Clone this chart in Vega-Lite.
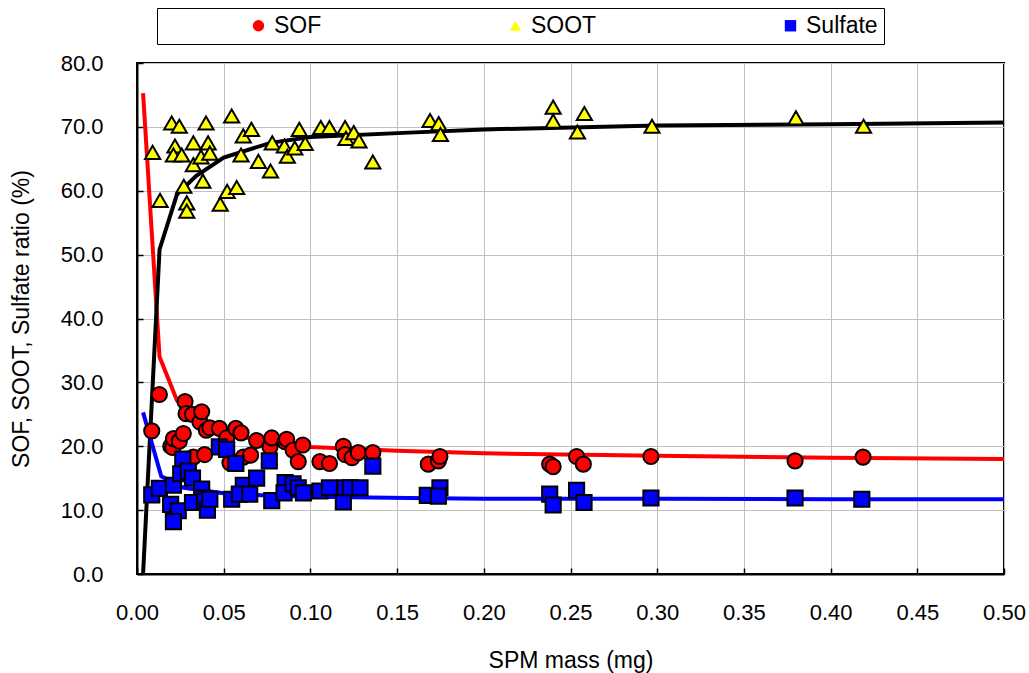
{
  "$schema": "https://vega.github.io/schema/vega-lite/v6.json",
  "width": 867,
  "height": 511,
  "padding": {"left": 10, "top": 7, "right": 5, "bottom": 5},
  "background": "white",
  "config": {
    "font": "Liberation Sans",
    "view": {"stroke": "black", "strokeWidth": 2},
    "axis": {
      "labelFont": "Liberation Sans",
      "labelFontSize": 22,
      "labelColor": "black",
      "labelFlush": false,
      "titleFont": "Liberation Sans",
      "titleFontSize": 23,
      "titleFontWeight": "normal",
      "titleColor": "black",
      "gridColor": "#c0c0c0",
      "gridWidth": 1,
      "domainColor": "black",
      "domainWidth": 2,
      "tickColor": "black",
      "tickWidth": 1.5,
      "tickSize": -6
    },
    "legend": {
      "orient": "none",
      "legendX": 20,
      "legendY": -55,
      "direction": "horizontal",
      "columns": 3,
      "columnPadding": 98,
      "padding": 6,
      "strokeColor": "black",
      "fillColor": "white",
      "labelFont": "Liberation Sans",
      "labelFontSize": 23,
      "labelColor": "black",
      "symbolSize": 130,
      "symbolStrokeColor": "black",
      "symbolStrokeWidth": 1.5,
      "symbolOffset": 84,
      "labelOffset": 4
    }
  },
  "data": {
    "values": [
      {"kind": "fit", "series": "SOF", "mass": 0.0035, "ratio": 75.3},
      {"kind": "fit", "series": "SOF", "mass": 0.013, "ratio": 34.0},
      {"kind": "fit", "series": "SOF", "mass": 0.023, "ratio": 27.2},
      {"kind": "fit", "series": "SOF", "mass": 0.03, "ratio": 25.4},
      {"kind": "fit", "series": "SOF", "mass": 0.05, "ratio": 22.2},
      {"kind": "fit", "series": "SOF", "mass": 0.07, "ratio": 20.9},
      {"kind": "fit", "series": "SOF", "mass": 0.1, "ratio": 19.9},
      {"kind": "fit", "series": "SOF", "mass": 0.15, "ratio": 19.3},
      {"kind": "fit", "series": "SOF", "mass": 0.2, "ratio": 18.9},
      {"kind": "fit", "series": "SOF", "mass": 0.3, "ratio": 18.5},
      {"kind": "fit", "series": "SOF", "mass": 0.4, "ratio": 18.2},
      {"kind": "fit", "series": "SOF", "mass": 0.5, "ratio": 18.0},

      {"kind": "fit", "series": "SOOT", "mass": 0.0035, "ratio": 0.0},
      {"kind": "fit", "series": "SOOT", "mass": 0.013, "ratio": 50.8},
      {"kind": "fit", "series": "SOOT", "mass": 0.023, "ratio": 59.4},
      {"kind": "fit", "series": "SOOT", "mass": 0.034, "ratio": 62.3},
      {"kind": "fit", "series": "SOOT", "mass": 0.05, "ratio": 65.2},
      {"kind": "fit", "series": "SOOT", "mass": 0.077, "ratio": 67.5},
      {"kind": "fit", "series": "SOOT", "mass": 0.1, "ratio": 68.4},
      {"kind": "fit", "series": "SOOT", "mass": 0.157, "ratio": 69.1},
      {"kind": "fit", "series": "SOOT", "mass": 0.2, "ratio": 69.6},
      {"kind": "fit", "series": "SOOT", "mass": 0.3, "ratio": 70.2},
      {"kind": "fit", "series": "SOOT", "mass": 0.4, "ratio": 70.4},
      {"kind": "fit", "series": "SOOT", "mass": 0.5, "ratio": 70.7},

      {"kind": "fit", "series": "Sulfate", "mass": 0.0035, "ratio": 25.3},
      {"kind": "fit", "series": "Sulfate", "mass": 0.014, "ratio": 15.3},
      {"kind": "fit", "series": "Sulfate", "mass": 0.027, "ratio": 13.5},
      {"kind": "fit", "series": "Sulfate", "mass": 0.054, "ratio": 12.5},
      {"kind": "fit", "series": "Sulfate", "mass": 0.1, "ratio": 12.1},
      {"kind": "fit", "series": "Sulfate", "mass": 0.157, "ratio": 11.9},
      {"kind": "fit", "series": "Sulfate", "mass": 0.2, "ratio": 11.8},
      {"kind": "fit", "series": "Sulfate", "mass": 0.3, "ratio": 11.8},
      {"kind": "fit", "series": "Sulfate", "mass": 0.4, "ratio": 11.7},
      {"kind": "fit", "series": "Sulfate", "mass": 0.5, "ratio": 11.7},

      {"kind": "obs", "series": "SOF", "mass": 0.0085, "ratio": 22.4},
      {"kind": "obs", "series": "SOF", "mass": 0.0129, "ratio": 28.1},
      {"kind": "obs", "series": "SOF", "mass": 0.0195, "ratio": 20.0},
      {"kind": "obs", "series": "SOF", "mass": 0.0206, "ratio": 19.8},
      {"kind": "obs", "series": "SOF", "mass": 0.021, "ratio": 21.2},
      {"kind": "obs", "series": "SOF", "mass": 0.0244, "ratio": 20.8},
      {"kind": "obs", "series": "SOF", "mass": 0.0267, "ratio": 22.0},
      {"kind": "obs", "series": "SOF", "mass": 0.0277, "ratio": 27.0},
      {"kind": "obs", "series": "SOF", "mass": 0.0283, "ratio": 25.1},
      {"kind": "obs", "series": "SOF", "mass": 0.032, "ratio": 25.0},
      {"kind": "obs", "series": "SOF", "mass": 0.0325, "ratio": 18.3},
      {"kind": "obs", "series": "SOF", "mass": 0.0363, "ratio": 23.8},
      {"kind": "obs", "series": "SOF", "mass": 0.0373, "ratio": 25.4},
      {"kind": "obs", "series": "SOF", "mass": 0.039, "ratio": 18.7},
      {"kind": "obs", "series": "SOF", "mass": 0.04, "ratio": 22.5},
      {"kind": "obs", "series": "SOF", "mass": 0.042, "ratio": 22.9},
      {"kind": "obs", "series": "SOF", "mass": 0.0475, "ratio": 22.8},
      {"kind": "obs", "series": "SOF", "mass": 0.0517, "ratio": 21.3},
      {"kind": "obs", "series": "SOF", "mass": 0.0536, "ratio": 17.4},
      {"kind": "obs", "series": "SOF", "mass": 0.057, "ratio": 22.8},
      {"kind": "obs", "series": "SOF", "mass": 0.06, "ratio": 22.1},
      {"kind": "obs", "series": "SOF", "mass": 0.0613, "ratio": 18.3},
      {"kind": "obs", "series": "SOF", "mass": 0.0655, "ratio": 18.6},
      {"kind": "obs", "series": "SOF", "mass": 0.069, "ratio": 20.9},
      {"kind": "obs", "series": "SOF", "mass": 0.0767, "ratio": 19.9},
      {"kind": "obs", "series": "SOF", "mass": 0.0777, "ratio": 21.3},
      {"kind": "obs", "series": "SOF", "mass": 0.0854, "ratio": 20.7},
      {"kind": "obs", "series": "SOF", "mass": 0.0863, "ratio": 21.1},
      {"kind": "obs", "series": "SOF", "mass": 0.09, "ratio": 19.4},
      {"kind": "obs", "series": "SOF", "mass": 0.093, "ratio": 17.6},
      {"kind": "obs", "series": "SOF", "mass": 0.0956, "ratio": 20.2},
      {"kind": "obs", "series": "SOF", "mass": 0.1055, "ratio": 17.6},
      {"kind": "obs", "series": "SOF", "mass": 0.111, "ratio": 17.3},
      {"kind": "obs", "series": "SOF", "mass": 0.119, "ratio": 20.0},
      {"kind": "obs", "series": "SOF", "mass": 0.12, "ratio": 18.7},
      {"kind": "obs", "series": "SOF", "mass": 0.124, "ratio": 18.2},
      {"kind": "obs", "series": "SOF", "mass": 0.1276, "ratio": 19.0},
      {"kind": "obs", "series": "SOF", "mass": 0.136, "ratio": 19.0},
      {"kind": "obs", "series": "SOF", "mass": 0.168, "ratio": 17.2},
      {"kind": "obs", "series": "SOF", "mass": 0.1738, "ratio": 17.7},
      {"kind": "obs", "series": "SOF", "mass": 0.1747, "ratio": 18.4},
      {"kind": "obs", "series": "SOF", "mass": 0.238, "ratio": 17.2},
      {"kind": "obs", "series": "SOF", "mass": 0.24, "ratio": 16.8},
      {"kind": "obs", "series": "SOF", "mass": 0.2535, "ratio": 18.4},
      {"kind": "obs", "series": "SOF", "mass": 0.2574, "ratio": 17.2},
      {"kind": "obs", "series": "SOF", "mass": 0.2964, "ratio": 18.4},
      {"kind": "obs", "series": "SOF", "mass": 0.3795, "ratio": 17.7},
      {"kind": "obs", "series": "SOF", "mass": 0.4187, "ratio": 18.3},

      {"kind": "obs", "series": "SOOT", "mass": 0.009, "ratio": 66.0},
      {"kind": "obs", "series": "SOOT", "mass": 0.0133, "ratio": 58.5},
      {"kind": "obs", "series": "SOOT", "mass": 0.02, "ratio": 70.6},
      {"kind": "obs", "series": "SOOT", "mass": 0.0244, "ratio": 70.1},
      {"kind": "obs", "series": "SOOT", "mass": 0.0219, "ratio": 67.0},
      {"kind": "obs", "series": "SOOT", "mass": 0.021, "ratio": 65.6},
      {"kind": "obs", "series": "SOOT", "mass": 0.0258, "ratio": 65.6},
      {"kind": "obs", "series": "SOOT", "mass": 0.0325, "ratio": 67.5},
      {"kind": "obs", "series": "SOOT", "mass": 0.0325, "ratio": 64.1},
      {"kind": "obs", "series": "SOOT", "mass": 0.0369, "ratio": 65.3},
      {"kind": "obs", "series": "SOOT", "mass": 0.041, "ratio": 67.5},
      {"kind": "obs", "series": "SOOT", "mass": 0.042, "ratio": 65.9},
      {"kind": "obs", "series": "SOOT", "mass": 0.0398, "ratio": 70.6},
      {"kind": "obs", "series": "SOOT", "mass": 0.038, "ratio": 61.5},
      {"kind": "obs", "series": "SOOT", "mass": 0.027, "ratio": 60.7},
      {"kind": "obs", "series": "SOOT", "mass": 0.0287, "ratio": 58.1},
      {"kind": "obs", "series": "SOOT", "mass": 0.0287, "ratio": 56.8},
      {"kind": "obs", "series": "SOOT", "mass": 0.048, "ratio": 57.9},
      {"kind": "obs", "series": "SOOT", "mass": 0.052, "ratio": 59.9},
      {"kind": "obs", "series": "SOOT", "mass": 0.0575, "ratio": 60.5},
      {"kind": "obs", "series": "SOOT", "mass": 0.0546, "ratio": 71.7},
      {"kind": "obs", "series": "SOOT", "mass": 0.0613, "ratio": 68.6},
      {"kind": "obs", "series": "SOOT", "mass": 0.066, "ratio": 69.6},
      {"kind": "obs", "series": "SOOT", "mass": 0.06, "ratio": 65.6},
      {"kind": "obs", "series": "SOOT", "mass": 0.07, "ratio": 64.6},
      {"kind": "obs", "series": "SOOT", "mass": 0.078, "ratio": 67.5},
      {"kind": "obs", "series": "SOOT", "mass": 0.077, "ratio": 63.1},
      {"kind": "obs", "series": "SOOT", "mass": 0.085, "ratio": 67.0},
      {"kind": "obs", "series": "SOOT", "mass": 0.0867, "ratio": 65.4},
      {"kind": "obs", "series": "SOOT", "mass": 0.091, "ratio": 66.7},
      {"kind": "obs", "series": "SOOT", "mass": 0.0936, "ratio": 69.6},
      {"kind": "obs", "series": "SOOT", "mass": 0.097, "ratio": 67.4},
      {"kind": "obs", "series": "SOOT", "mass": 0.106, "ratio": 69.9},
      {"kind": "obs", "series": "SOOT", "mass": 0.111, "ratio": 69.9},
      {"kind": "obs", "series": "SOOT", "mass": 0.12, "ratio": 69.9},
      {"kind": "obs", "series": "SOOT", "mass": 0.1205, "ratio": 68.2},
      {"kind": "obs", "series": "SOOT", "mass": 0.125, "ratio": 69.1},
      {"kind": "obs", "series": "SOOT", "mass": 0.128, "ratio": 67.8},
      {"kind": "obs", "series": "SOOT", "mass": 0.136, "ratio": 64.5},
      {"kind": "obs", "series": "SOOT", "mass": 0.169, "ratio": 71.0},
      {"kind": "obs", "series": "SOOT", "mass": 0.174, "ratio": 70.5},
      {"kind": "obs", "series": "SOOT", "mass": 0.175, "ratio": 68.8},
      {"kind": "obs", "series": "SOOT", "mass": 0.24, "ratio": 73.1},
      {"kind": "obs", "series": "SOOT", "mass": 0.24, "ratio": 70.9},
      {"kind": "obs", "series": "SOOT", "mass": 0.254, "ratio": 69.2},
      {"kind": "obs", "series": "SOOT", "mass": 0.258, "ratio": 72.1},
      {"kind": "obs", "series": "SOOT", "mass": 0.297, "ratio": 70.1},
      {"kind": "obs", "series": "SOOT", "mass": 0.38, "ratio": 71.4},
      {"kind": "obs", "series": "SOOT", "mass": 0.419, "ratio": 70.1},

      {"kind": "obs", "series": "Sulfate", "mass": 0.0085, "ratio": 12.4},
      {"kind": "obs", "series": "Sulfate", "mass": 0.0129, "ratio": 13.4},
      {"kind": "obs", "series": "Sulfate", "mass": 0.0194, "ratio": 10.9},
      {"kind": "obs", "series": "Sulfate", "mass": 0.0238, "ratio": 9.9},
      {"kind": "obs", "series": "Sulfate", "mass": 0.021, "ratio": 8.2},
      {"kind": "obs", "series": "Sulfate", "mass": 0.021, "ratio": 13.9},
      {"kind": "obs", "series": "Sulfate", "mass": 0.0264, "ratio": 18.0},
      {"kind": "obs", "series": "Sulfate", "mass": 0.0252, "ratio": 15.7},
      {"kind": "obs", "series": "Sulfate", "mass": 0.0296, "ratio": 16.1},
      {"kind": "obs", "series": "Sulfate", "mass": 0.032, "ratio": 15.0},
      {"kind": "obs", "series": "Sulfate", "mass": 0.0373, "ratio": 13.3},
      {"kind": "obs", "series": "Sulfate", "mass": 0.0373, "ratio": 11.9},
      {"kind": "obs", "series": "Sulfate", "mass": 0.032, "ratio": 11.2},
      {"kind": "obs", "series": "Sulfate", "mass": 0.039, "ratio": 11.4},
      {"kind": "obs", "series": "Sulfate", "mass": 0.0406, "ratio": 10.0},
      {"kind": "obs", "series": "Sulfate", "mass": 0.042, "ratio": 11.7},
      {"kind": "obs", "series": "Sulfate", "mass": 0.0475, "ratio": 19.9},
      {"kind": "obs", "series": "Sulfate", "mass": 0.0517, "ratio": 19.5},
      {"kind": "obs", "series": "Sulfate", "mass": 0.057, "ratio": 17.3},
      {"kind": "obs", "series": "Sulfate", "mass": 0.0546, "ratio": 11.7},
      {"kind": "obs", "series": "Sulfate", "mass": 0.0613, "ratio": 13.9},
      {"kind": "obs", "series": "Sulfate", "mass": 0.059, "ratio": 12.5},
      {"kind": "obs", "series": "Sulfate", "mass": 0.065, "ratio": 12.5},
      {"kind": "obs", "series": "Sulfate", "mass": 0.069, "ratio": 15.0},
      {"kind": "obs", "series": "Sulfate", "mass": 0.0763, "ratio": 17.7},
      {"kind": "obs", "series": "Sulfate", "mass": 0.0777, "ratio": 11.5},
      {"kind": "obs", "series": "Sulfate", "mass": 0.0854, "ratio": 14.3},
      {"kind": "obs", "series": "Sulfate", "mass": 0.0848, "ratio": 12.7},
      {"kind": "obs", "series": "Sulfate", "mass": 0.09, "ratio": 14.1},
      {"kind": "obs", "series": "Sulfate", "mass": 0.093, "ratio": 13.5},
      {"kind": "obs", "series": "Sulfate", "mass": 0.096, "ratio": 12.7},
      {"kind": "obs", "series": "Sulfate", "mass": 0.1055, "ratio": 13.0},
      {"kind": "obs", "series": "Sulfate", "mass": 0.111, "ratio": 13.5},
      {"kind": "obs", "series": "Sulfate", "mass": 0.119, "ratio": 11.3},
      {"kind": "obs", "series": "Sulfate", "mass": 0.12, "ratio": 13.5},
      {"kind": "obs", "series": "Sulfate", "mass": 0.123, "ratio": 13.5},
      {"kind": "obs", "series": "Sulfate", "mass": 0.1286, "ratio": 13.5},
      {"kind": "obs", "series": "Sulfate", "mass": 0.136, "ratio": 16.9},
      {"kind": "obs", "series": "Sulfate", "mass": 0.1674, "ratio": 12.3},
      {"kind": "obs", "series": "Sulfate", "mass": 0.1747, "ratio": 13.5},
      {"kind": "obs", "series": "Sulfate", "mass": 0.1738, "ratio": 12.2},
      {"kind": "obs", "series": "Sulfate", "mass": 0.238, "ratio": 12.5},
      {"kind": "obs", "series": "Sulfate", "mass": 0.24, "ratio": 10.8},
      {"kind": "obs", "series": "Sulfate", "mass": 0.2535, "ratio": 13.1},
      {"kind": "obs", "series": "Sulfate", "mass": 0.2578, "ratio": 11.2},
      {"kind": "obs", "series": "Sulfate", "mass": 0.2964, "ratio": 11.9},
      {"kind": "obs", "series": "Sulfate", "mass": 0.3795, "ratio": 11.9},
      {"kind": "obs", "series": "Sulfate", "mass": 0.418, "ratio": 11.7}
    ]
  },
  "encoding": {
    "x": {
      "field": "mass",
      "type": "quantitative",
      "title": "SPM mass (mg)",
      "scale": {"domain": [0, 0.5], "nice": false, "zero": false},
      "axis": {
        "values": [0, 0.05, 0.1, 0.15, 0.2, 0.25, 0.3, 0.35, 0.4, 0.45, 0.5],
        "format": ".2f",
        "labelPadding": 34,
        "titlePadding": 26
      }
    },
    "y": {
      "field": "ratio",
      "type": "quantitative",
      "title": "SOF, SOOT, Sulfate ratio (%)",
      "scale": {"domain": [0, 80], "nice": false},
      "axis": {
        "values": [0, 10, 20, 30, 40, 50, 60, 70, 80],
        "format": ".1f",
        "labelPadding": 40,
        "titlePadding": 27
      }
    }
  },
  "layer": [
    {
      "transform": [{"filter": "datum.kind === 'fit' && datum.series === 'SOF'"}],
      "mark": {"type": "line", "strokeWidth": 4, "color": "#ff0000", "clip": true},
      "encoding": {}
    },
    {
      "transform": [{"filter": "datum.kind === 'fit' && datum.series === 'SOOT'"}],
      "mark": {"type": "line", "strokeWidth": 4, "color": "#000000", "clip": true},
      "encoding": {}
    },
    {
      "transform": [{"filter": "datum.kind === 'fit' && datum.series === 'Sulfate'"}],
      "mark": {"type": "line", "strokeWidth": 4, "color": "#0000ff", "clip": true},
      "encoding": {}
    },
    {
      "transform": [{"filter": "datum.kind === 'obs'"}],
      "mark": {"type": "point", "filled": true, "size": 230, "stroke": "black", "strokeWidth": 2, "opacity": 1},
      "encoding": {
        "fill": {
          "field": "series",
          "type": "nominal",
          "scale": {"domain": ["SOF", "SOOT", "Sulfate"], "range": ["#ff0000", "#ffff00", "#0000ff"]},
          "legend": {"title": null}
        },
        "shape": {
          "field": "series",
          "type": "nominal",
          "scale": {"domain": ["SOF", "SOOT", "Sulfate"], "range": ["circle", "triangle-up", "square"]},
          "legend": {"title": null}
        }
      }
    }
  ]
}
